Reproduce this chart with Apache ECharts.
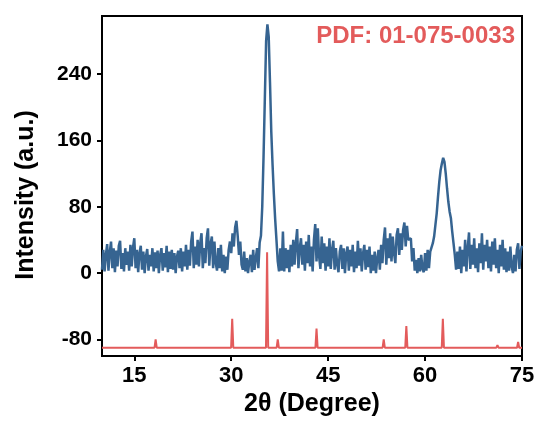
<!DOCTYPE html>
<html>
<head>
<meta charset="utf-8">
<script src="https://cdn.jsdelivr.net/npm/echarts@6/dist/echarts.min.js"></script>
<style>
html,body{margin:0;padding:0;background:#fff;}
#chart{width:539px;height:428px;}
</style>
</head>
<body>
<div id="chart"></div>
<script>
// ---- data ----
const xMin = 10, xMax = 75;
const xTicks = [15, 30, 45, 60, 75];
const yMin = -100, yMax = 310;
const yTicks = [-80, 0, 80, 160, 240];
const xTitle = '2θ (Degree)';
const yTitle = 'Intensity (a.u.)';
const refLabel = 'PDF: 01-075-0033';

// measured pattern, sampled from 10 to 75 deg every 0.2 deg
const blueStart = 10, blueStep = 0.2;
const blueY = [
  4, 28, 2, 22, 35,
  3, 25, 38, 6, 30,
  1, 27, 8, 33, 39,
  5, 24, 2, 30, 10,
  26, 3, 34, 8, 31,
  42, 6, 28, 1, 24,
  33, 4, 26, 0, 20,
  29, 3, 22, 8, 30,
  2, 25, 6, 27, 0,
  22, 30, 3, 24, 7,
  33, 1, 26, 5, 28,
  4, 24, 0, 20, 27,
  6, 30, 2, 26, 8,
  34, 4, 28, 9, 38,
  50, 6, 32, 10, 40,
  8, 36, 48, 6, 30,
  12, 42, 54, 9, 35,
  44, 6, 38, 12, 3,
  30, 6, 34, 2, 22,
  0, 20, 4, 28, 38,
  24, 48, 32, 55, 63,
  45, 22, 38, 10, 4,
  26, 2, 18, 0, 14,
  22, 1, 28, 4, 18,
  30, 6, 37, 45, 80,
  140, 210, 280, 300, 285,
  230, 170, 130, 95, 65,
  40, 14, 2, 30, 3,
  50, 2, 30, 6, 28,
  1, 34, 8, 40, 10,
  36, 53, 6, 30, 42,
  10, 34, 3, 38, 12,
  46, 8, 32, 2, 40,
  59, 14, 54, 20, 5,
  44, 12, 36, 3, 32,
  8, 42, 5, 28, 39,
  4, 30, 10, 1, 26,
  34, 5, 30, 0, 24,
  32, 3, 28, 8, 34,
  1, 26, 6, 39, 9,
  30, 2, 24, 34, 4,
  28, 7, 32, 0, 22,
  3, 26, 0, 18, 28,
  4, 34, 12, 40, 55,
  10, 42, 18, 48, 14,
  44, 24, 12, 46, 54,
  22, 48, 28, 52, 61,
  32, 57, 40, 38, 42,
  14, 30, 3, 16, 0,
  18, 2, 22, 5, 1,
  24, 3, 28, 6, 26,
  28, 36, 44, 58, 72,
  92, 110, 124, 132, 139,
  134, 120, 102, 86, 74,
  66, 50, 36, 22, 4,
  26, 5, 32, 0, 28,
  8, 40, 2, 30, 49,
  5, 34, 10, 42, 6,
  30, 1, 36, 12, 48,
  4, 34, 14, 40, 6,
  32, 2, 38, 10, 42,
  6, 28, 0, 34, 8,
  40, 4, 30, 1, 26,
  3, 32, 8, 0, 22,
  2, 28, 36, 5, 26,
  33
];

// reference pattern (offset baseline) : peak positions and peak tops
const refBase = -90;
const refHalfWidth = 0.17;
const refPos    = [18.3, 30.15, 35.55, 37.2, 43.2, 47.3, 53.6, 57.1, 62.75, 66.1, 71.2, 74.4];
const refHeight = [-80,  -55,   25,    -80,  -67,  -88,  -80,  -64,  -55,   -88,  -87,  -83];

// ---- build series data ----
const blueData = blueY.map((v, i) => [+(blueStart + i * blueStep).toFixed(2), v]);
const redData = [[xMin, refBase]];
refPos.forEach((p, i) => {
  redData.push([p - refHalfWidth, refBase]);
  redData.push([p, refHeight[i]]);
  redData.push([p + refHalfWidth, refBase]);
});
redData.push([xMax, refBase]);

const FONT = '"Liberation Sans", Arial, Helvetica, sans-serif';
const BLUE = '#366491';
const RED = '#E35B5B';

const chart = echarts.init(document.getElementById('chart'), null, {renderer: 'canvas'});
chart.setOption({
  animation: false,
  backgroundColor: '#fff',
  grid: {left: 102, right: 17, top: 16, bottom: 72, show: true, borderColor: '#000', borderWidth: 2, backgroundColor: 'transparent'},
  xAxis: {
    type: 'value', min: xMin, max: xMax,
    name: xTitle, nameLocation: 'middle', nameGap: 33,
    nameTextStyle: {fontFamily: FONT, fontSize: 25, fontWeight: 'bold', color: '#000'},
    axisLine: {show: true, onZero: false, lineStyle: {color: '#000', width: 2}},
    axisTick: {show: true, customValues: xTicks, length: 5, lineStyle: {color: '#000', width: 2}},
    axisLabel: {show: true, customValues: xTicks, margin: 9, fontFamily: FONT, fontSize: 22, fontWeight: 'bold', color: '#000'},
    splitLine: {show: false}
  },
  yAxis: {
    type: 'value', min: yMin, max: yMax,
    axisLine: {show: true, onZero: false, lineStyle: {color: '#000', width: 2}},
    axisTick: {show: true, customValues: yTicks, length: 5, lineStyle: {color: '#000', width: 2}},
    axisLabel: {show: true, customValues: yTicks, margin: 10, fontFamily: FONT, fontSize: 21, fontWeight: 'bold', color: '#000'},
    splitLine: {show: false}
  },
  graphic: [{
    type: 'text', right: 24, top: 24,
    style: {text: refLabel, fill: RED, font: 'bold 24px ' + FONT}
  }, {
    type: 'text', x: 26, y: 195, rotation: Math.PI / 2,
    style: {text: yTitle, fill: '#000', font: 'bold 25px ' + FONT, align: 'center', verticalAlign: 'middle'}
  }],
  series: [
    {type: 'line', data: redData, showSymbol: false, symbol: 'none', lineStyle: {color: RED, width: 2}, z: 2},
    {type: 'line', data: blueData, showSymbol: false, symbol: 'none', lineStyle: {color: BLUE, width: 2.5}, z: 3}
  ]
});
</script>
</body>
</html>
